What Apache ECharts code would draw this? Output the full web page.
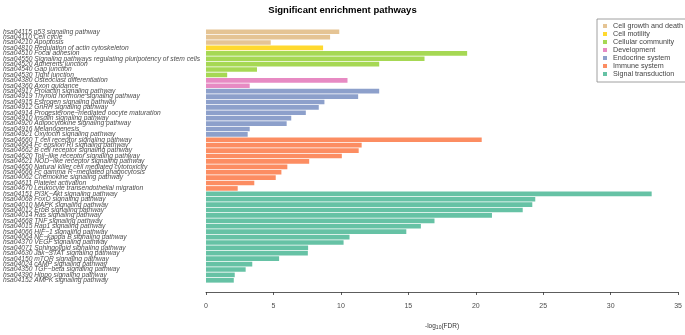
<!DOCTYPE html>
<html>
<head>
<meta charset="utf-8">
<script src="https://cdn.jsdelivr.net/npm/echarts@6/dist/echarts.min.js"></script>
<style>
  html, body { margin: 0; padding: 0; background: #fff; }
  #chart { width: 685px; height: 335px; }
</style>
</head>
<body>
<div id="chart"></div>
<script>
// pathway names, top to bottom
var pathways = [
  'hsa04115 p53 signaling pathway', 'hsa04110 Cell cycle', 'hsa04210 Apoptosis',
  'hsa04810 Regulation of actin cytoskeleton',
  'hsa04510 Focal adhesion', 'hsa04550 Signaling pathways regulating pluripotency of stem cells',
  'hsa04520 Adherens junction', 'hsa04540 Gap junction', 'hsa04530 Tight junction',
  'hsa04380 Osteoclast differentiation', 'hsa04360 Axon guidance',
  'hsa04917 Prolactin signaling pathway', 'hsa04919 Thyroid hormone signaling pathway',
  'hsa04915 Estrogen signaling pathway', 'hsa04912 GnRH signaling pathway',
  'hsa04914 Progesterone\u2212mediated oocyte maturation', 'hsa04910 Insulin signaling pathway',
  'hsa04920 Adipocytokine signaling pathway', 'hsa04916 Melanogenesis', 'hsa04921 Oxytocin signaling pathway',
  'hsa04660 T cell receptor signaling pathway', 'hsa04664 Fc epsilon RI signaling pathway',
  'hsa04662 B cell receptor signaling pathway', 'hsa04620 Toll\u2212like receptor signaling pathway',
  'hsa04621 NOD\u2212like receptor signaling pathway', 'hsa04650 Natural killer cell mediated cytotoxicity',
  'hsa04666 Fc gamma R\u2212mediated phagocytosis', 'hsa04062 Chemokine signaling pathway',
  'hsa04611 Platelet activation', 'hsa04670 Leukocyte transendothelial migration',
  'hsa04151 PI3K\u2212Akt signaling pathway', 'hsa04068 FoxO signaling pathway',
  'hsa04010 MAPK signaling pathway', 'hsa04012 ErbB signaling pathway', 'hsa04014 Ras signaling pathway',
  'hsa04668 TNF signaling pathway', 'hsa04015 Rap1 signaling pathway', 'hsa04066 HIF\u22121 signaling pathway',
  'hsa04064 NF\u2212kappa B signaling pathway', 'hsa04370 VEGF signaling pathway',
  'hsa04071 Sphingolipid signaling pathway', 'hsa04630 Jak\u2212STAT signaling pathway',
  'hsa04150 mTOR signaling pathway', 'hsa04024 cAMP signaling pathway',
  'hsa04350 TGF\u2212beta signaling pathway', 'hsa04390 Hippo signaling pathway', 'hsa04152 AMPK signaling pathway'
];

// -log10(FDR)
var fdrValues = [
  9.88, 9.2, 4.8,
  8.68,
  19.36, 16.2, 12.84, 3.78, 1.57,
  10.49, 3.24,
  12.84, 11.28, 8.78, 8.36, 7.4, 6.32, 5.98, 3.24, 3.09,
  20.44, 11.54, 11.32, 10.07, 7.65, 6.03, 5.59, 5.17, 3.58, 2.35,
  33.04, 24.41, 24.19, 23.48, 21.2, 16.94, 15.93, 14.85, 10.64, 10.2, 7.57, 7.55, 5.42, 3.43, 2.94, 2.13, 2.06
];

// class of each pathway (index into classes)
var pathwayClass = [
  0, 0, 0,
  1,
  2, 2, 2, 2, 2,
  3, 3,
  4, 4, 4, 4, 4, 4, 4, 4, 4,
  5, 5, 5, 5, 5, 5, 5, 5, 5, 5,
  6, 6, 6, 6, 6, 6, 6, 6, 6, 6, 6, 6, 6, 6, 6, 6, 6
];

var classes = ['Cell growth and death', 'Cell motility', 'Cellular community', 'Development',
               'Endocrine system', 'Immune system', 'Signal transduction'];
var classColors = ['#E5C494', '#FFD92F', '#A6D854', '#E78AC3', '#8DA0CB', '#FC8D62', '#66C2A5'];

var xTicks = [0, 5, 10, 15, 20, 25, 30, 35];

var myChart = echarts.init(document.getElementById('chart'));

var series = classes.map(function (name, c) {
  return {
    name: name,
    type: 'bar',
    stack: 'all',
    barCategoryGap: '14%',
    itemStyle: { color: classColors[c] },
    data: fdrValues.map(function (v, i) { return pathwayClass[i] === c ? v : '-'; })
  };
});

var option = {
  animation: false,
  title: {
    text: 'Significant enrichment pathways',
    left: 'center',
    top: 0,
    textStyle: { fontFamily: 'Liberation Sans', fontSize: 9.5, fontWeight: 'bold', color: '#000' }
  },
  legend: {
    orient: 'vertical',
    left: 597,
    top: 19,
    padding: [3, 6, 4, 6],
    itemGap: 0,
    itemWidth: 4,
    itemHeight: 4,
    icon: 'rect',
    borderColor: '#888',
    borderWidth: 0.8,
    textStyle: { fontFamily: 'Liberation Sans', fontSize: 7.2, lineHeight: 8, color: '#444', padding: [0, 0, 0, 1] },
    data: classes
  },
  grid: { left: 204, right: 5, top: 29, bottom: 48, containLabel: false },
  xAxis: {
    type: 'value',
    min: xTicks[0],
    max: xTicks[xTicks.length - 1],
    interval: 5,
    offset: 9,
    name: '-log{sub|10}(FDR)',
    nameLocation: 'middle',
    nameGap: 30,
    nameTextStyle: {
      fontFamily: 'Liberation Sans', fontSize: 6.5, color: '#333',
      rich: { sub: { fontSize: 5, verticalAlign: 'bottom', padding: [3, 0, 0, 0], color: '#333' } }
    },
    splitLine: { show: false },
    axisLine: { show: true, lineStyle: { color: '#333', width: 0.8 } },
    axisTick: { show: true, length: 3, lineStyle: { color: '#333', width: 0.8 } },
    axisLabel: { margin: 11, fontFamily: 'Liberation Sans', fontSize: 7, color: '#4d4d4d' }
  },
  yAxis: {
    type: 'category',
    inverse: true,
    data: pathways,
    axisLine: { show: false },
    axisTick: { show: false },
    axisLabel: {
      interval: 0,
      align: 'left',
      margin: 203,
      fontFamily: 'Liberation Sans',
      fontStyle: 'italic',
      fontSize: 6.7,
      color: '#4d4d4d'
    }
  },
  series: series
};

myChart.setOption(option);
</script>
</body>
</html>
